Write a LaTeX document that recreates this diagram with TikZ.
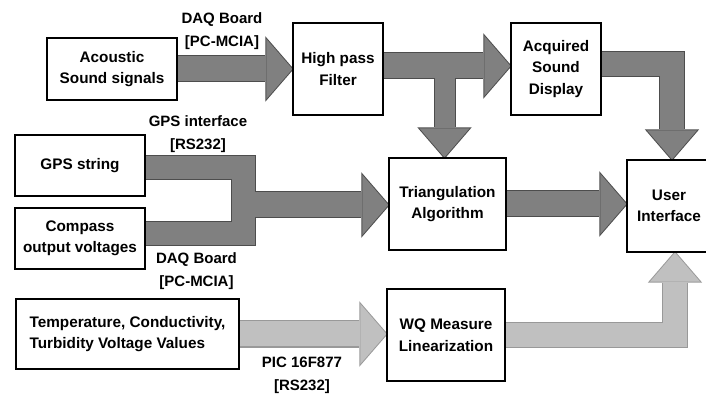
\documentclass[tikz,border=0pt]{standalone}
\usepackage{fontspec}
\setmainfont{Liberation Sans}
\usetikzlibrary{arrows.meta,backgrounds,calc}

\definecolor{darkfill}{HTML}{808080}
\definecolor{darkrim}{HTML}{4D4D4D}
\definecolor{lightfill}{HTML}{C0C0C0}
\definecolor{lightrim}{HTML}{999999}

\tikzset{
  main/.style = {draw, line width=1.2pt, fill=white, align=center, inner sep=0pt,
    font=\bfseries\fontsize{15.3}{21.5}\selectfont},
  lbl/.style = {align=center, inner sep=0pt, font=\bfseries\fontsize{15}{23}\selectfont},
  % fat arrows: a darker rim pass first, then the body on top
  rim/.style = {line width=#1+2pt}, rim/.default=25pt,
  body/.style = {line width=#1}, body/.default=25pt,
  hrim/.style = {rim=#1, shorten >=-1.3pt, -{Triangle[width=65.3pt, length=28.3pt, line width'=0pt]}}, hrim/.default=25pt,
  hbody/.style = {body=#1, -{Triangle[width=60pt, length=26pt, line width'=0pt]}}, hbody/.default=25pt,
  vrim/.style = {rim=#1, shorten >=-1.5pt, -{Triangle[width=54.3pt, length=31.5pt, line width'=0pt]}}, vrim/.default=22pt,
  vbody/.style = {body=#1, -{Triangle[width=50pt, length=29pt, line width'=0pt]}}, vbody/.default=22pt,
}

\begin{document}
\begin{tikzpicture}[x=1pt, y=1pt]
\useasboundingbox (0,0) rectangle (706,396);

\node[main, minimum width=130pt, minimum height=62pt] (ac) at (112,327) {Acoustic\\Sound signals};
\node[main, minimum width=90pt, minimum height=92pt] (hp) at (338,327) {High pass\\Filter};
\node[main, minimum width=90pt, minimum height=92pt] (aq) at (556,327) {Acquired\\Sound\\Display};
\node[main, minimum width=130pt, minimum height=61pt] (gps) at (80,230.5) {GPS string};
\node[main, minimum width=130pt, minimum height=61pt] (cmp) at (80,157.5) {Compass\\output voltages};
\node[main, minimum width=117pt, minimum height=92pt] (tri) at (447.5,192) {Triangulation\\Algorithm};
\node[main, minimum width=84pt, minimum height=92pt] (ui) at (669,190) {User\\Interface};
\node[main, align=left, minimum width=223pt, minimum height=70pt] (tmp) at (127.5,62) {Temperature, Conductivity,\\Turbidity Voltage Values};
\node[main, minimum width=118pt, minimum height=92pt] (wq) at (446,61) {WQ Measure\\Linearization};

\coordinate (tee) at (444.5,330);
\coordinate (jn) at (243,191);

\node[lbl] (daqa) at (222,364.5) {DAQ Board\\{[PC-MCIA]}};
\node[lbl] (gpsif) at (198,261.5) {GPS interface\\{[RS232]}};
\node[lbl] (daqb) at (196.5,125) {DAQ Board\\{[PC-MCIA]}};
\node[lbl] (pic) at (302,21) {PIC 16F877\\{[RS232]}};

\begin{scope}[on background layer]
\foreach \lyr/\dk/\lg in {rim/darkrim/lightrim, body/darkfill/lightfill} {
  \draw[h\lyr, color=\dk] (ac.east) -- (ac.east -| hp.west);
  \draw[h\lyr, color=\dk] ([yshift=3pt]hp.east) -- ([yshift=3pt]aq.west);
  \draw[v\lyr=20pt, color=\dk] (tee) -- (tee |- tri.north);
  \draw[v\lyr=24pt, color=\dk] ([yshift=4.5pt]aq.east) -| ([xshift=3pt]ui.north);
  \draw[\lyr=23pt, color=\dk] ([yshift=-2pt]gps.east) -| (jn) |- ([yshift=4.5pt]cmp.east);
  \draw[h\lyr, color=\dk] (jn) -- (jn -| tri.west);
  \draw[h\lyr, color=\dk] (tri.east) -- (tri.east -| ui.west);
  \draw[h\lyr, color=\lg] (tmp.east) -- (tmp.east -| wq.west);
  \draw[v\lyr=24pt, color=\lg] (wq.east) -| ([xshift=6pt]ui.south);
}
\end{scope}
\end{tikzpicture}
\end{document}
